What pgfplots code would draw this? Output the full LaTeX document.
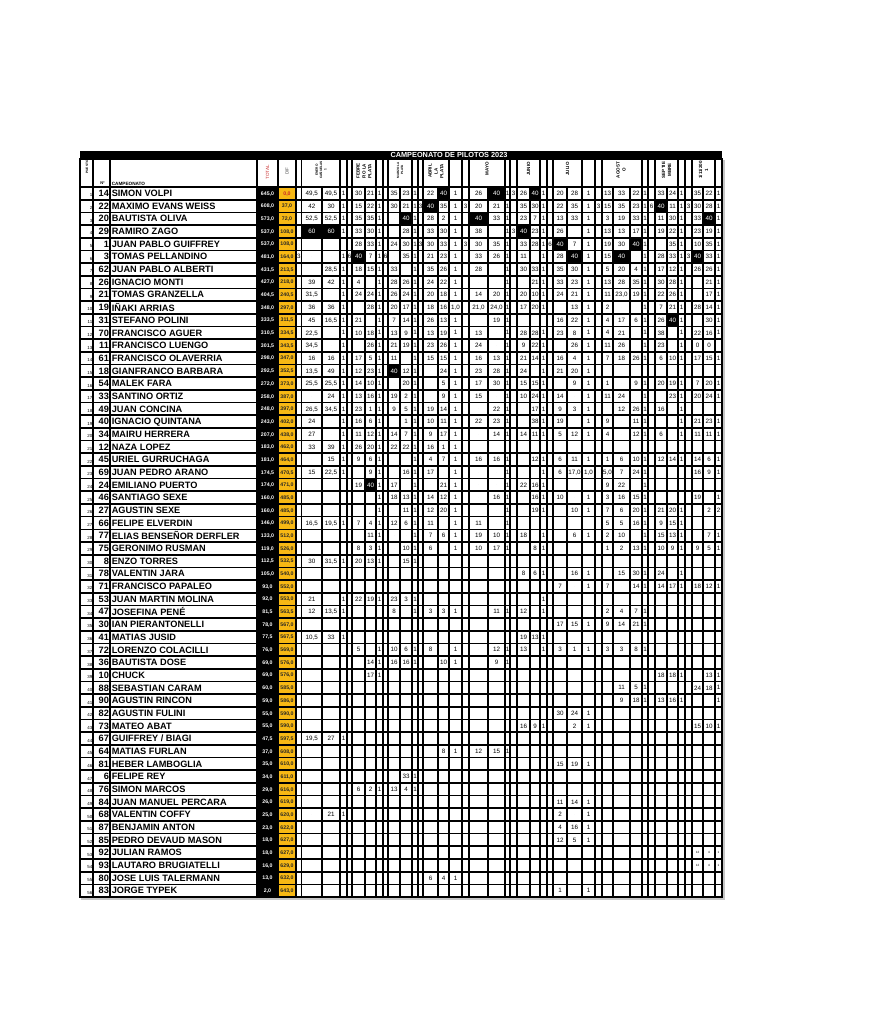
\documentclass[border=0pt]{standalone}
\usepackage{fontspec}
\setmainfont{Liberation Sans}
\usepackage{pgfplots}
\pgfplotsset{compat=1.18}
\usepackage{pgfplotstable}
\definecolor{gold}{RGB}{247,184,20}
\definecolor{tred}{RGB}{200,40,40}
\newcommand\W[1]{\textcolor{white}{#1}}
\newcommand\R[1]{\textcolor{tred}{#1}}
\def\ry{187+(\thisrow{r}-0.5)*12.679}
\newcommand\fv{\fontsize{4.7}{5}\selectfont}
\pgfplotsset{
 txt/.style n args={3}{only marks, mark=*, mark size=0pt, mark options={draw=none,fill=none},
   scatter/use mapped color={draw=none,fill=none},
   nodes near coords={\pgfplotspointmeta}, point meta=explicit symbolic,
   every node near coord/.append style={anchor=#1, inner sep=0pt, outer sep=0pt, text depth=0pt, font=#2, text=#3}},
 gl/.style={black, line width=1.25pt, line cap=rect, mark=none},
 cellfill/.style={fill=#1, draw=none, mark=none},
}
\tikzset{hl/.style={rotate=90, align=center, inner sep=0pt, font=\fontsize{3.4}{4.4}\selectfont\bfseries}}
\newcommand\vc[3]{\addplot[txt={center}{\fv}{black}] table[x expr=#3, y expr=\ry, meta=#2] {#1};}
\newcommand\blk[3]{\pgfmathsetmacro\ya{187+(#3-1)*12.679}\pgfmathsetmacro\yb{187+#3*12.679}\addplot[cellfill=black] coordinates {(#1,\ya) (#2,\ya) (#2,\yb) (#1,\yb)} -- cycle;}

\pgfplotstableread{
r n name tot dif
1 14 {SIMON VOLPI} 645,0 {\R{0,0}}
2 22 {MAXIMO EVANS WEISS} 608,0 37,0
3 20 {BAUTISTA OLIVA} 573,0 72,0
4 29 {RAMIRO ZAGO} 537,0 108,0
5 1 {JUAN PABLO GUIFFREY} 537,0 108,0
6 3 {TOMAS PELLANDINO} 481,0 164,0
7 62 {JUAN PABLO ALBERTI} 431,5 213,5
8 26 {IGNACIO MONTI} 427,0 218,0
9 21 {TOMAS GRANZELLA} 404,5 240,5
10 19 {IÑAKI ARRIAS} 348,0 297,0
11 31 {STEFANO POLINI} 333,5 311,5
12 70 {FRANCISCO AGUER} 310,5 334,5
13 11 {FRANCISCO LUENGO} 301,5 343,5
14 61 {FRANCISCO OLAVERRIA} 298,0 347,0
15 18 {GIANFRANCO BARBARA} 292,5 352,5
16 54 {MALEK FARA} 272,0 373,0
17 33 {SANTINO ORTIZ} 258,0 387,0
18 49 {JUAN CONCINA} 248,0 397,0
19 40 {IGNACIO QUINTANA} 243,0 402,0
20 34 {MAIRU HERRERA} 207,0 438,0
21 12 {NAZA LOPEZ} 183,0 462,0
22 45 {URIEL GURRUCHAGA} 181,0 464,0
23 69 {JUAN PEDRO ARANO} 174,5 470,5
24 24 {EMILIANO PUERTO} 174,0 471,0
25 46 {SANTIAGO SEXE} 160,0 485,0
26 27 {AGUSTIN SEXE} 160,0 485,0
27 66 {FELIPE ELVERDIN} 146,0 499,0
28 77 {ELIAS BENSEÑOR DERFLER} 133,0 512,0
29 75 {GERONIMO RUSMAN} 119,0 526,0
30 8 {ENZO TORRES} 112,5 532,5
31 78 {VALENTIN JARA} 105,0 540,0
32 71 {FRANCISCO PAPALEO} 93,0 552,0
33 53 {JUAN MARTIN MOLINA} 92,0 553,0
34 47 {JOSEFINA PENÉ} 81,5 563,5
35 30 {IAN PIERANTONELLI} 78,0 567,0
36 41 {MATIAS JUSID} 77,5 567,5
37 72 {LORENZO COLACILLI} 76,0 569,0
38 36 {BAUTISTA DOSE} 69,0 576,0
39 10 {CHUCK} 69,0 576,0
40 88 {SEBASTIAN CARAM} 60,0 585,0
41 90 {AGUSTIN RINCON} 59,0 586,0
42 82 {AGUSTIN FULINI} 55,0 590,0
43 73 {MATEO ABAT} 55,0 590,0
44 67 {GUIFFREY / BIAGI} 47,5 597,5
45 64 {MATIAS FURLAN} 37,0 608,0
46 81 {HEBER LAMBOGLIA} 35,0 610,0
47 6 {FELIPE REY} 34,0 611,0
48 76 {SIMON MARCOS} 29,0 616,0
49 84 {JUAN MANUEL PERCARA} 26,0 619,0
50 68 {VALENTIN COFFY} 25,0 620,0
51 87 {BENJAMIN ANTON} 23,0 622,0
52 85 {PEDRO DEVAUD MASON} 18,0 627,0
53 92 {JULIAN RAMOS} 18,0 627,0
54 93 {LAUTARO BRUGIATELLI} 16,0 629,0
55 80 {JOSE LUIS TALERMANN} 13,0 632,0
56 83 {JORGE TYPEK} 2,0 643,0
}\tmain

% ENERO
\pgfplotstableread{
r s a b f
1 {} 49,5 49,5 1
2 {} 42 30 1
3 {} 52,5 52,5 1
4 {} {\W{60}} {\W{60}} 1
6 3 {} {} 1
7 {} {} 28,5 1
8 {} 39 42 1
9 {} 31,5 {} 1
10 {} 36 36 1
11 {} 45 16,5 1
12 {} 22,5 {} 1
13 {} 34,5 {} 1
14 {} 16 16 1
15 {} 13,5 49 1
16 {} 25,5 25,5 1
17 {} {} 24 1
18 {} 26,5 34,5 1
19 {} 24 {} 1
20 {} 27 {} 1
21 {} 33 39 1
22 {} {} 15 1
23 {} 15 22,5 1
27 {} 16,5 19,5 1
30 {} 30 31,5 1
33 {} 21 {} 1
34 {} 12 13,5 1
36 {} 10,5 33 1
44 {} 19,5 27 1
50 {} {} 21 1
}\tE

% FEBRERO
\pgfplotstableread{
r s a b f
1 {} 30 21 1
2 {} 15 22 1
3 {} 35 35 1
4 {} 33 30 1
5 {} 28 33 1
6 6 {\W{40}} 7 1
7 {} 18 15 1
8 {} 4 {} 1
9 {} 24 24 1
10 {} {} 28 1
11 {} 21 {} 1
12 {} 10 18 1
13 {} {} 26 1
14 {} 17 5 1
15 {} 12 23 1
16 {} 14 10 1
17 {} 13 16 1
18 {} 23 1 1
19 {} 16 6 1
20 {} 11 12 1
21 {} 26 20 1
22 {} 9 6 1
23 {} {} 9 1
24 {} 19 {\W{40}} 1
25 {} {} {} 1
26 {} {} {} 1
27 {} 7 4 1
28 {} {} 11 1
29 {} 8 3 1
30 {} 20 13 1
33 {} 22 19 1
37 {} 5 {} 1
38 {} {} 14 1
39 {} {} 17 1
48 {} 6 2 1
}\tF

% MARZO
\pgfplotstableread{
r s a b f
1 {} 35 23 1
2 {} 30 21 1
3 {} {} {\W{40}} 1
4 {} {} 28 1
5 {} 24 30 1
6 6 {} 35 1
7 {} 33 {} 1
8 {} 28 26 1
9 {} 26 24 1
10 {} 20 17 1
11 {} 7 14 1
12 {} 13 9 1
13 {} 21 19 1
14 {} 11 {} 1
15 {} {\W{40}} 12 1
16 {} {} 20 1
17 {} 19 2 1
18 {} 9 5 1
19 {} {} 1 1
20 {} 14 7 1
21 {} 22 22 1
22 {} {} {} 1
23 {} {} 16 1
24 {} 17 {} 1
25 {} 18 13 1
26 {} {} 11 1
27 {} 12 6 1
28 {} {} {} 1
29 {} {} 10 1
30 {} {} 15 1
33 {} 23 3 1
34 {} 8 {} 1
37 {} 10 6 1
38 {} 16 16 1
47 {} {} 33 1
48 {} 13 4 1
}\tM

% ABRIL
\pgfplotstableread{
r s a b f
1 {} 22 {\W{40}} 1
2 3 {\W{40}} 35 1
3 {} 28 2 1
4 {} 33 30 1
5 3 30 33 1
6 {} 21 23 1
7 {} 35 26 1
8 {} 24 22 1
9 {} 20 18 1
10 {} 18 16 1,0
11 {} 26 13 1
12 {} 13 19 1
13 {} 23 26 1
14 {} 15 15 1
15 {} {} 24 1
16 {} {} 5 1
17 {} {} 9 1
18 {} 19 14 1
19 {} 10 11 1
20 {} 9 17 1
21 {} 16 1 1
22 {} 4 7 1
23 {} 17 {} 1
24 {} {} 21 1
25 {} 14 12 1
26 {} 12 20 1
27 {} 11 {} 1
28 {} 7 6 1
29 {} 6 {} 1
34 {} 3 3 1
37 {} 8 {} 1
38 {} {} 10 1
45 {} {} 8 1
55 {} 6 4 1
}\tA

% MAYO
\pgfplotstableread{
r s a b f
1 {} 26 {\W{40}} 1
2 3 20 21 1
3 {} {\W{40}} 33 1
4 {} 38 {} 1
5 3 30 35 1
6 {} 33 26 1
7 {} 28 {} 1
8 {} {} {} 1
9 {} 14 20 1
10 {} 21,0 24,0 1
11 {} {} 19 1
12 {} 13 {} 1
13 {} 24 {} 1
14 {} 16 13 1
15 {} 23 28 1
16 {} 17 30 1
17 {} 15 {} 1
18 {} {} 22 1
19 {} 22 23 1
20 {} {} 14 1
22 {} 16 16 1
23 {} {} {} 1
24 {} {} {} 1
25 {} {} 16 1
26 {} {} {} 1
27 {} 11 {} 1
28 {} 19 10 1
29 {} 10 17 1
34 {} {} 11 1
37 {} {} 12 1
38 {} {} 9 1
45 {} 12 15 1
}\tY

% JUNIO
\pgfplotstableread{
r s a b f
1 3 26 {\W{40}} 1
2 {} 35 30 1
3 {} 23 7 1
4 3 {\W{40}} 23 1
5 {} 33 28 1
6 {} 11 {} 1
7 {} 30 33 1
8 {} {} 21 1
9 {} 20 10 1
10 {} 17 20 1
12 {} 28 28 1
13 {} 9 22 1
14 {} 21 14 1
15 {} 24 {} 1
16 {} 15 15 1
17 {} 10 24 1
18 {} {} 17 1
19 {} {} 38 1
20 {} 14 11 1
22 {} {} 12 1
23 {} {} {} 1
24 {} 22 16 1
25 {} {} 16 1
26 {} {} 19 1
28 {} 18 {} 1
29 {} {} 8 1
31 {} 8 6 1
33 {} {} {} 1
34 {} 12 {} 1
36 {} 19 13 1
37 {} 13 {} 1
43 {} 16 9 1
}\tJ

% JULIO
\pgfplotstableread{
r s a b f
1 {} 20 28 1
2 {} 22 35 1
3 {} 13 33 1
4 {} 26 {} 1
5 6 {\W{40}} 7 1
6 {} 28 {\W{40}} 1
7 {} 35 30 1
8 {} 33 23 1
9 {} 24 21 1
10 {} {} 13 1
11 {} 16 22 1
12 {} 23 8 1
13 {} {} 26 1
14 {} 16 4 1
15 {} 21 20 1
16 {} {} 9 1
17 {} 14 {} 1
18 {} 9 3 1
19 {} 19 {} 1
20 {} 5 12 1
22 {} 6 11 1
23 {} 6 17,0 1,0
25 {} 10 {} 1
26 {} {} 10 1
28 {} {} 6 1
31 {} {} 16 1
32 {} 7 {} 1
35 {} 17 15 1
37 {} 3 1 1
42 {} 30 24 1
43 {} {} 2 1
46 {} 15 19 1
49 {} 11 14 1
50 {} 2 {} 1
51 {} 4 16 1
52 {} 12 5 1
56 {} 1 {} 1
}\tL

% AGOSTO
\pgfplotstableread{
r s a b c f
1 {} 13 33 22 1
2 3 15 35 23 1
3 {} 3 19 33 1
4 {} 13 13 17 1
5 {} 19 30 {\W{40}} 1
6 {} 15 {\W{40}} {} 1
7 {} 5 20 4 1
8 {} 13 28 35 1
9 {} 11 23,0 19 1
10 {} 2 {} {} 1
11 {} 4 17 6 1
12 {} 4 21 {} 1
13 {} 11 26 {} 1
14 {} 7 18 26 1
16 {} 1 {} 9 1
17 {} 11 24 {} 1
18 {} {} 12 26 1
19 {} 9 {} 11 1
20 {} 4 {} 12 1
22 {} 1 6 10 1
23 {} 5,0 7 24 1
24 {} 9 22 {} 1
25 {} 3 16 15 1
26 {} 7 6 20 1
27 {} 5 5 16 1
28 {} 2 10 {} 1
29 {} 1 2 13 1
31 {} {} 15 30 1
32 {} 7 {} 14 1
34 {} 2 4 7 1
35 {} 9 14 21 1
37 {} 3 3 8 1
40 {} {} 11 5 1
41 {} {} 9 18 1
}\tG

% SEPTIEMBRE
\pgfplotstableread{
r s a b f
1 {} 33 24 1
2 6 {\W{40}} 11 1
3 {} 11 30 1
4 {} 19 22 1
5 {} {} 35 1
6 {} 28 33 1
7 {} 17 12 1
8 {} 30 28 1
9 {} 22 26 1
10 {} 7 21 1
11 {} 26 {\W{40}} 1
12 {} 38 {} 1
13 {} 23 {} 1
14 {} 6 10 1
16 {} 20 19 1
17 {} {} 23 1
18 {} 16 {} 1
19 {} {} {} 1
20 {} 6 {} 1
22 {} 12 14 1
26 {} 21 20 1
27 {} 9 15 1
28 {} 15 13 1
29 {} 10 9 1
31 {} 24 {} 1
32 {} 14 17 1
39 {} 18 18 1
41 {} 13 16 1
}\tS

% 1/11
\pgfplotstableread{
r s a b f
1 {} 35 22 1
2 3 30 28 1
3 {} 33 {\W{40}} 1
4 {} 23 19 1
5 {} 10 35 1
6 3 {\W{40}} 33 1
7 {} 26 26 1
8 {} {} 21 1
9 {} {} 17 1
10 {} 28 14 1
11 {} {} 30 1
12 {} 22 16 1
13 {} 0 0 {}
14 {} 17 15 1
16 {} 7 20 1
17 {} 20 24 1
19 {} 21 23 1
20 {} 11 11 1
22 {} 14 6 1
23 {} 16 9 1
25 {} 19 {} 1
26 {} {} 2 2
28 {} {} 7 1
29 {} 9 5 1
32 {} 18 12 1
39 {} {} 13 1
40 {} 24 18 1
41 {} {} {} 1
43 {} 15 10 1
}\tN

\pgfplotstableread{
r a b f
53 12 4 1
54 12 4 1
}\tNt

\begin{document}
\begin{tikzpicture}
\begin{axis}[
  width=657pt, height=768pt, scale only axis,
  xmin=0, xmax=876, ymin=0, ymax=1024, y dir=reverse,
  axis line style={draw=none}, ticks=none, clip=false,
]
% fills
\addplot[cellfill=black] coordinates {(80,150.5) (722,150.5) (722,159) (80,159)} -- cycle;
\addplot[cellfill=black] coordinates {(257,187) (278,187) (278,897) (257,897)} -- cycle;
\addplot[cellfill=gold] coordinates {(278,187) (296,187) (296,897) (278,897)} -- cycle;
\addplot[cellfill=gray!45] coordinates {(722,160) (725,160) (725,900) (722,900)} -- cycle;
\addplot[cellfill=gray!45] coordinates {(81,897) (725,897) (725,900) (81,900)} -- cycle;
% black highlighted cells
\blk{438}{449}{1} \blk{488}{505}{1} \blk{530}{540}{1}
\blk{423}{438}{2} \blk{655}{667}{2}
\blk{400}{412}{3} \blk{469}{488}{3} \blk{703}{715}{3}
\blk{301.5}{340}{4} \blk{517}{530}{4}
\blk{553}{567}{5} \blk{630}{642}{5}
\blk{352}{365}{6} \blk{567}{582}{6} \blk{613}{630}{6} \blk{692}{703}{6}
\blk{667}{678}{11}
\blk{388}{400}{15}
\blk{365}{376}{24}
% grid
\pgfplotsinvokeforeach{80,93,110,257,278,296,301.5,340,347,352,376,383,388,412,418,423,449,462,469,505,510,517,540,547,553,582,595,602,642,648,655,678,685,692,715,722}{\addplot[gl] coordinates {(#1,159) (#1,897)};}
\pgfplotsinvokeforeach{322,365,400,438,488,530,567,613,630,667,703}{\addplot[gl] coordinates {(#1,187) (#1,897)};}
\addplot[gl] coordinates {(80,159) (722,159)};
\pgfplotsinvokeforeach{0,...,56}{\pgfmathsetmacro\yy{187+#1*12.679}\addplot[gl] coordinates {(80,\yy) (722,\yy)};}
% left columns
\addplot[txt={east}{\fontsize{3.3}{3.5}\selectfont}{black}] table[x expr=92.3, y expr=\ry+2, meta=r] {\tmain};
\addplot[txt={east}{\fontsize{6.9}{7}\selectfont\bfseries}{black}] table[x expr=108.9, y expr=\ry, meta=n] {\tmain};
\addplot[txt={west}{\fontsize{6.9}{7}\selectfont\bfseries}{black}] table[x expr=111.8, y expr=\ry, meta=name] {\tmain};
\addplot[txt={center}{\fontsize{3.9}{4}\selectfont\bfseries}{white}] table[x expr=267.5, y expr=\ry, meta=tot] {\tmain};
\addplot[txt={center}{\fontsize{3.9}{4}\selectfont\bfseries}{black!85}] table[x expr=287, y expr=\ry, meta=dif] {\tmain};
% races
\vc{\tE}{s}{298.75}\vc{\tE}{a}{311.75}\vc{\tE}{b}{331}\vc{\tE}{f}{343.5}
\vc{\tF}{s}{349.5}\vc{\tF}{a}{358.5}\vc{\tF}{b}{370.5}\vc{\tF}{f}{379.5}
\vc{\tM}{s}{385.5}\vc{\tM}{a}{394}\vc{\tM}{b}{406}\vc{\tM}{f}{415}
\vc{\tA}{s}{420.5}\vc{\tA}{a}{430.5}\vc{\tA}{b}{443.5}\vc{\tA}{f}{455.5}
\vc{\tY}{s}{465.5}\vc{\tY}{a}{478.5}\vc{\tY}{b}{496.5}\vc{\tY}{f}{507.5}
\vc{\tJ}{s}{513.5}\vc{\tJ}{a}{523.5}\vc{\tJ}{b}{535}\vc{\tJ}{f}{543.5}
\vc{\tL}{s}{550}\vc{\tL}{a}{560}\vc{\tL}{b}{574.5}\vc{\tL}{f}{588.5}
\vc{\tG}{s}{598.5}\vc{\tG}{a}{607.5}\vc{\tG}{b}{621.5}\vc{\tG}{c}{636}\vc{\tG}{f}{645}
\vc{\tS}{s}{651.5}\vc{\tS}{a}{661}\vc{\tS}{b}{672.5}\vc{\tS}{f}{681.5}
\vc{\tN}{s}{688.5}\vc{\tN}{a}{697.5}\vc{\tN}{b}{709}\vc{\tN}{f}{718.5}
\addplot[txt={center}{\fontsize{2.3}{2.5}\selectfont}{black}] table[x expr=697.5, y expr=\ry, meta=a] {\tNt};
\addplot[txt={center}{\fontsize{2.3}{2.5}\selectfont}{black}] table[x expr=709, y expr=\ry, meta=b] {\tNt};
\addplot[txt={center}{\fontsize{2.3}{2.5}\selectfont}{black}] table[x expr=718.5, y expr=\ry, meta=f] {\tNt};
% headers
\node[font=\fontsize{5.5}{6}\selectfont\bfseries, text=white, inner sep=0pt] at (axis cs:449,155) {CAMPEONATO DE PILOTOS 2023};
\node[rotate=90, font=\fontsize{2.4}{2.6}\selectfont\bfseries, inner sep=0pt] at (axis cs:87,167) {PUESTO};
\node[font=\fontsize{3}{3}\selectfont\bfseries, inner sep=0pt] at (axis cs:102.5,183.5) {Nº};
\node[anchor=west, font=\fontsize{3.5}{4}\selectfont\bfseries, inner sep=0pt] at (axis cs:111.5,183.7) {CAMPEONATO};
\node[rotate=90, font=\fontsize{3.4}{4}\selectfont, text=tred, inner sep=0pt] at (axis cs:267.5,172.5) {TOTAL};
\node[rotate=90, font=\fontsize{3.4}{4}\selectfont, text=black!70, inner sep=0pt] at (axis cs:287,171) {DIF};
\node[hl, font=\fontsize{2.4}{3.1}\selectfont\bfseries] at (axis cs:321,170) {ENERO\\CAÑUELAS\\1};
\node[hl] at (axis cs:364,171) {FEBRE\\RO LA\\PLATA};
\node[hl, font=\fontsize{2.3}{3}\selectfont\bfseries] at (axis cs:400,170) {MARZO LA\\PLATA};
\node[hl] at (axis cs:436,171) {ABRIL\\LA\\PLATA};
\node[hl] at (axis cs:487,169) {MAYO};
\node[hl] at (axis cs:528.5,169) {JUNIO};
\node[hl] at (axis cs:567.5,169) {JULIO};
\node[hl] at (axis cs:621,170) {AGOST\\O};
\node[hl] at (axis cs:666.5,170) {SEPTIE\\MBRE};
\node[hl] at (axis cs:703.5,170) {1/11/200\\1};
\end{axis}
\end{tikzpicture}
\end{document}
